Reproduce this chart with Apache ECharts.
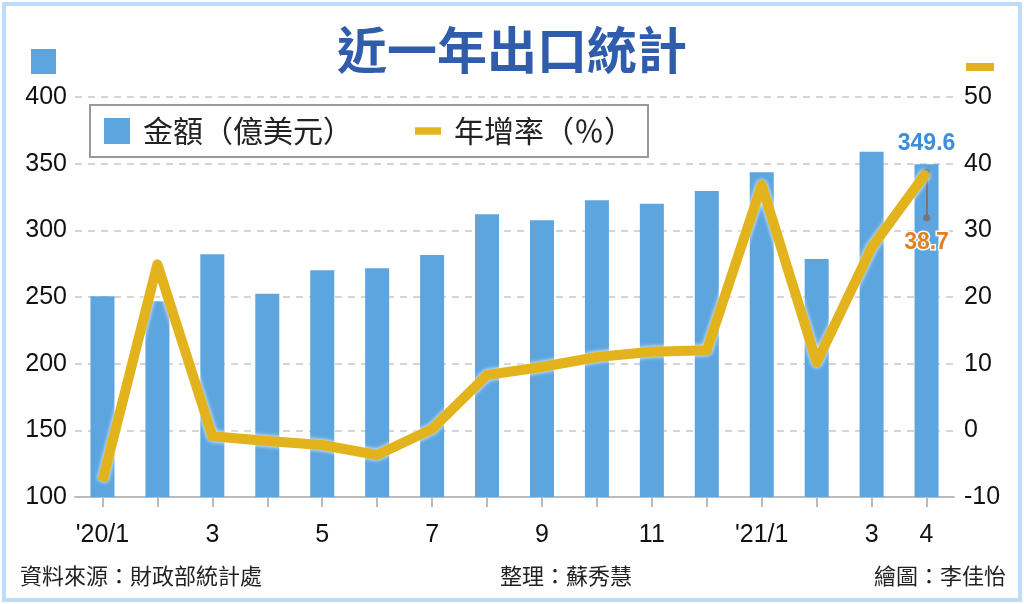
<!DOCTYPE html>
<html>
<head>
<meta charset="utf-8">
<script src="https://cdn.jsdelivr.net/npm/echarts@6/dist/echarts.min.js"></script>
<style>
  html, body { margin: 0; padding: 0; background: #fff; }
  #main { width: 1024px; height: 604px; }
</style>
</head>
<body>
<div id="main"></div>
<script>
// 月份
var months = ["'20/1", '2', '3', '4', '5', '6', '7', '8', '9', '10', '11', '12', "'21/1", '2', '3', '4'];
// 出口金額(億美元)
var exportAmount = [250.6, 246.8, 282, 252.5, 270, 271.5, 281.5, 312, 307.5, 322.5, 320, 329.5, 343.5, 278.5, 359, 349.6];
// 年增率(%)
var growthRate = [-7.6, 24.9, -0.9, -1.6, -2.2, -3.7, 0.2, 8.3, 9.5, 11.0, 11.8, 12.0, 36.8, 10.2, 27.4, 38.7];
var leftTicks = [100, 400, 50];
var rightTicks = [-10, 50, 10];
// 引線終點(右軸值)
var pointerEnd = 31.9;

(function () {
    var barColor = '#5DA5DE';
    var lineColor = '#E2B31C';
    var cjk = '"Noto Sans CJK TC", sans-serif';
    var num = '"Liberation Sans", Arial, sans-serif';
    var last = months.length - 1;

    var myChart = echarts.init(document.getElementById('main'));

    // 最後一個月加上數值標籤
    var barData = exportAmount.map(function (v, i) {
        if (i !== last) return v;
        return {
            value: v,
            label: {
                show: true, position: 'top', distance: 9,
                color: '#3A8EDB', fontSize: 23, fontFamily: num, fontWeight: 'bold',
                textBorderColor: '#fff', textBorderWidth: 3
            }
        };
    });
    var lineData = growthRate.map(function (v, i) {
        if (i !== last) return v;
        return {
            value: v,
            label: {
                show: true, position: 'bottom', distance: 58,
                color: '#E08020', fontSize: 23, fontFamily: num, fontWeight: 'bold',
                textBorderColor: '#fff', textBorderWidth: 3
            }
        };
    });

    var option = {
        animation: false,
        backgroundColor: '#fff',
        title: {
            text: '近一年出口統計',
            left: 'center',
            top: 20,
            textStyle: {
                color: '#2F5CAB',
                fontSize: 50,
                fontWeight: 'bold',
                fontFamily: cjk
            }
        },
        legend: {
            left: 90,
            top: 105,
            itemWidth: 26,
            itemHeight: 26,
            itemGap: 62,
            padding: [11, 14, 11, 14],
            borderColor: '#999',
            borderWidth: 2,
            backgroundColor: '#fff',
            textStyle: {
                fontSize: 30,
                color: '#222',
                fontFamily: cjk,
                padding: [0, 0, 0, 8]
            },
            data: [
                {name: '金額（億美元）', icon: 'rect'},
                {name: '年增率（％）', icon: 'path://M0,0L28,0L28,8L0,8Z'}
            ]
        },
        grid: {
            left: 75,
            right: 70,
            top: 97,
            bottom: 107,
            containLabel: false
        },
        xAxis: {
            type: 'category',
            data: months,
            axisLine: {onZero: false, lineStyle: {color: '#bbb', width: 2}},
            axisTick: {show: true, alignWithLabel: true, length: 10, lineStyle: {color: '#bbb', width: 2}, interval: 0},
            axisLabel: {
                margin: 26,
                fontSize: 25,
                color: '#111',
                fontFamily: num,
                interval: function (i) {
                    return i % 2 === 0 || i === last;
                }
            }
        },
        yAxis: [
            {
                type: 'value',
                min: leftTicks[0],
                max: leftTicks[1],
                interval: leftTicks[2],
                axisLine: {show: false},
                axisTick: {show: false},
                axisLabel: {margin: 8, fontSize: 25, color: '#111', fontFamily: num},
                splitLine: {lineStyle: {color: '#c8c8c8', type: [7, 6], width: 1.5}}
            },
            {
                type: 'value',
                min: rightTicks[0],
                max: rightTicks[1],
                interval: rightTicks[2],
                position: 'right',
                axisLine: {show: false},
                axisTick: {show: false},
                axisLabel: {margin: 10, fontSize: 25, color: '#111', fontFamily: num},
                splitLine: {show: false}
            }
        ],
        series: [
            {
                name: '金額（億美元）',
                type: 'bar',
                yAxisIndex: 0,
                barWidth: 24,
                itemStyle: {color: barColor},
                data: barData
            },
            {
                name: '年增率（％）',
                type: 'line',
                yAxisIndex: 1,
                symbol: 'circle',
                symbolSize: 2,
                showSymbol: true,
                z: 5,
                lineStyle: {
                    color: lineColor,
                    width: 10,
                    join: 'round',
                    shadowColor: 'rgba(255,255,255,1)',
                    shadowBlur: 4
                },
                itemStyle: {color: lineColor},
                data: lineData,
                markLine: {
                    silent: true,
                    symbol: ['circle', 'circle'],
                    symbolSize: 7,
                    label: {show: false},
                    lineStyle: {color: '#777', width: 2, type: 'solid'},
                    data: [[
                        {coord: [last, growthRate[last]]},
                        {coord: [last, pointerEnd]}
                    ]]
                }
            }
        ],
        graphic: [
            {
                type: 'rect',
                shape: {x: 4, y: 4, width: 1016, height: 596},
                style: {fill: 'none', stroke: '#BEDCF4', lineWidth: 4},
                silent: true
            },
            {
                type: 'rect',
                shape: {x: 31, y: 49, width: 25, height: 25},
                style: {fill: barColor}
            },
            {
                type: 'rect',
                shape: {x: 966, y: 63, width: 28, height: 8},
                style: {fill: lineColor}
            },
            {
                type: 'text',
                left: 20,
                top: 565,
                style: {text: '資料來源：財政部統計處', fill: '#222', fontSize: 22, fontFamily: cjk}
            },
            {
                type: 'text',
                left: 500,
                top: 565,
                style: {text: '整理：蘇秀慧', fill: '#222', fontSize: 22, fontFamily: cjk}
            },
            {
                type: 'text',
                right: 18,
                top: 565,
                style: {text: '繪圖：李佳怡', fill: '#222', fontSize: 22, fontFamily: cjk}
            }
        ]
    };
    if (option && typeof option === "object") {
        myChart.setOption(option, true);
    }
})();
</script>
</body>
</html>
